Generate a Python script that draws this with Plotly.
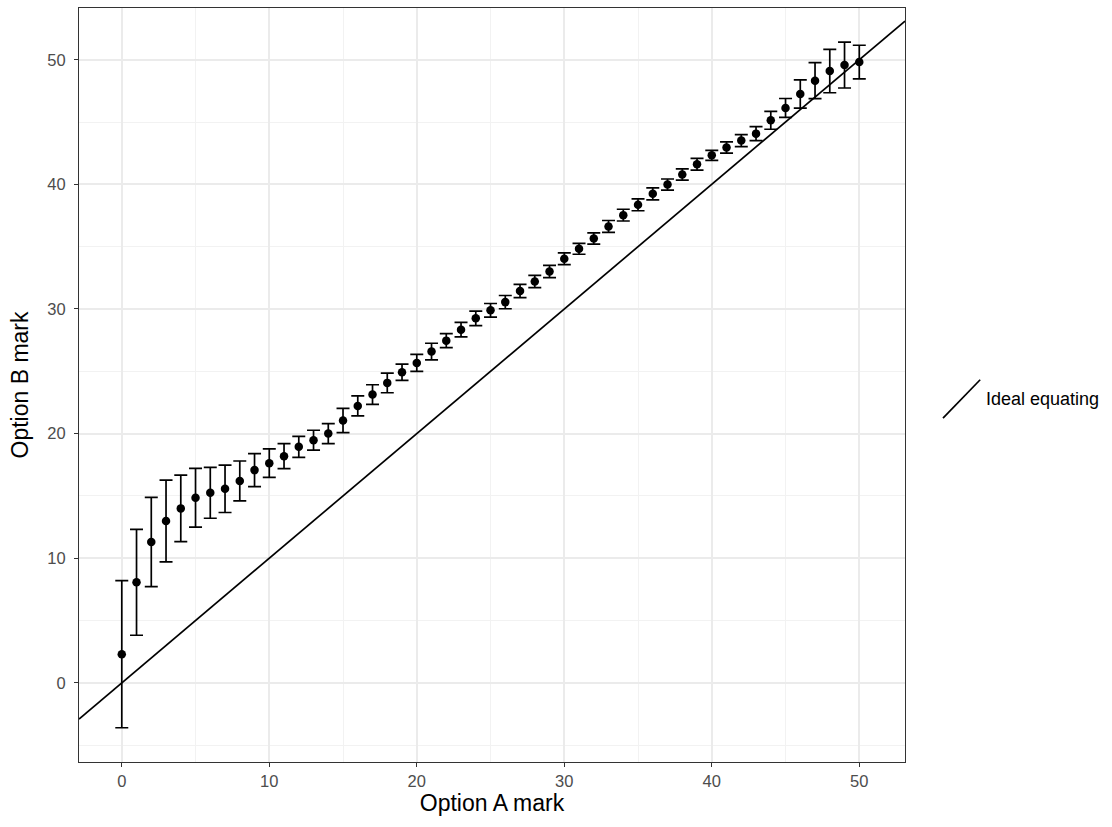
import plotly.graph_objects as go

# ---- data ----
option_a = list(range(0, 51))
option_b = [2.3, 8.07, 11.3, 12.98, 14.0, 14.85, 15.25, 15.57, 16.2, 17.07,
            17.63, 18.19, 18.94, 19.47, 20.0, 21.05, 22.22, 23.13, 24.07, 24.92,
            25.67, 26.58, 27.46, 28.34, 29.25, 29.89, 30.55, 31.44, 32.21, 33.01,
            34.03, 34.83, 35.66, 36.62, 37.53, 38.36, 39.24, 39.98, 40.79, 41.61,
            42.33, 42.96, 43.51, 44.07, 45.14, 46.13, 47.25, 48.32, 49.09, 49.57,
            49.81]
option_b_err = [5.9, 4.25, 3.58, 3.28, 2.67, 2.36, 2.04, 1.9, 1.6, 1.32,
                1.15, 1.0, 0.84, 0.8, 0.8, 0.97, 0.8, 0.79, 0.79, 0.65,
                0.68, 0.67, 0.56, 0.58, 0.58, 0.55, 0.53, 0.53, 0.49, 0.49,
                0.47, 0.44, 0.45, 0.48, 0.47, 0.48, 0.48, 0.45, 0.45, 0.47,
                0.4, 0.45, 0.48, 0.56, 0.72, 0.76, 1.13, 1.44, 1.74, 1.84,
                1.35]
tick_vals = [0, 10, 20, 30, 40, 50]
x_range = [-2.9, 53.1]
y_range = [-6.35, 54.15]

FONT = "Liberation Sans, Arial"

fig = go.Figure()

# ideal equating line y = x across the full panel
fig.add_trace(go.Scatter(
    x=x_range, y=x_range, mode="lines",
    line=dict(color="black", width=1.7),
    name="Ideal equating", showlegend=False, hoverinfo="skip"))

fig.add_trace(go.Scatter(
    x=option_a, y=option_b, mode="markers",
    marker=dict(color="black", size=8.5),
    error_y=dict(type="data", array=option_b_err, visible=True,
                 color="black", thickness=1.7, width=6.5),
    showlegend=False))

axis_common = dict(
    showgrid=True, gridcolor="#EBEBEB", gridwidth=1.5,
    minor=dict(showgrid=True, gridcolor="#F2F2F2", gridwidth=0.9, dtick=5),
    zeroline=False, showline=True, linecolor="#333333", linewidth=1, mirror=True,
    ticks="outside", ticklen=4, tickcolor="#333333", tickwidth=1,
    tickfont=dict(family=FONT, size=16.5, color="#4D4D4D"),
    tickvals=tick_vals,
)

fig.update_xaxes(range=x_range, title=dict(text="Option A mark",
                 font=dict(family=FONT, size=23, color="black"),
                 standoff=4), **axis_common)
fig.update_yaxes(range=y_range, ticklabelstandoff=5,
                 title=dict(text="Option B mark",
                            font=dict(family=FONT, size=23, color="black"),
                            standoff=12), **axis_common)

# legend key (manual, diagonal like the reference)
fig.add_shape(type="line", xref="paper", yref="paper",
              x0=1.046, y0=0.456, x1=1.091, y1=0.507,
              line=dict(color="black", width=1.7))
fig.add_annotation(xref="paper", yref="paper", x=1.096, y=0.481,
                   text="Ideal equating", showarrow=False,
                   xanchor="left", yanchor="middle",
                   font=dict(family=FONT, size=18, color="black"))

fig.update_layout(
    width=1112, height=827,
    margin=dict(l=79, r=207, t=8, b=65),
    plot_bgcolor="white", paper_bgcolor="white",
    showlegend=False,
)

fig.write_html("out.html")
